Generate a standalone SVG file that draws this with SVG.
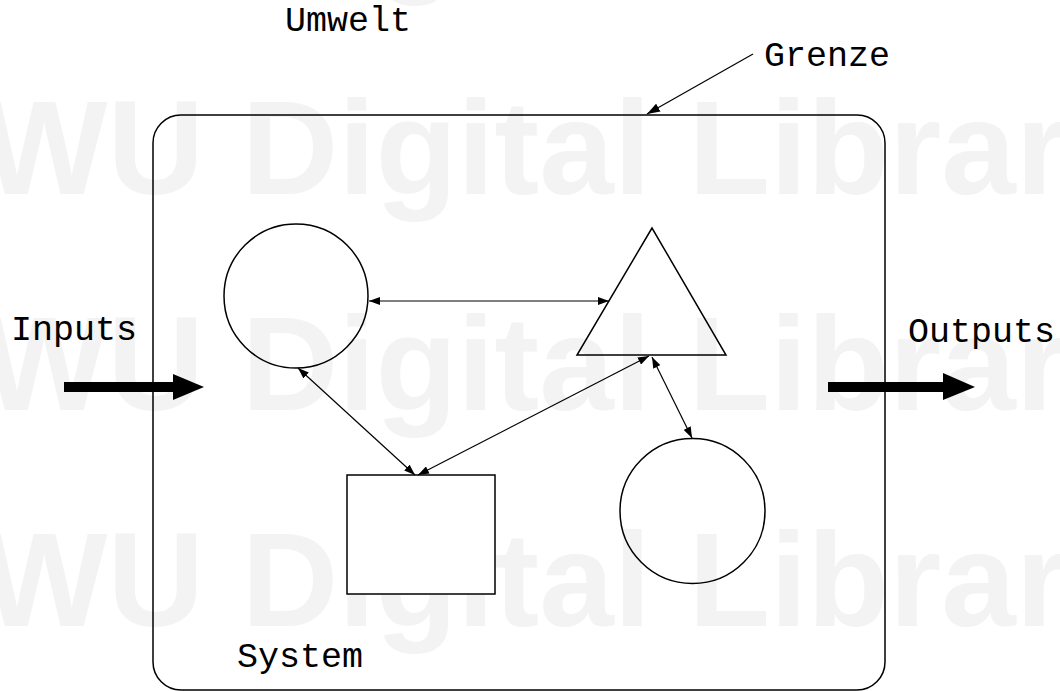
<svg xmlns="http://www.w3.org/2000/svg" width="1060" height="691" viewBox="0 0 1060 691">
<style>
.wm{font-family:"Liberation Sans",Arial,sans-serif;font-weight:bold;font-size:134px;fill:#f3f3f3}
.lbl{font-family:"Liberation Mono","Courier New",monospace;font-size:35px;fill:#000}
.shape{stroke:#000;stroke-width:1.5}
.con{stroke:#000;stroke-width:1.2;fill:none}
</style>
<defs>
<marker id="ah" viewBox="0 0 11 8" refX="11" refY="4" markerWidth="11" markerHeight="8" markerUnits="userSpaceOnUse" orient="auto-start-reverse">
<path d="M0,0 L11,4 L0,8 z" fill="#000"/>
</marker>
<marker id="ahg" viewBox="0 0 13 9" refX="13" refY="4.5" markerWidth="13" markerHeight="9" markerUnits="userSpaceOnUse" orient="auto">
<path d="M0,0 L13,4.5 L0,9 z" fill="#000"/>
</marker>
</defs>
<rect width="1060" height="691" fill="#fff"/>
<g id="watermark">
<text class="wm" x="-19" y="-22">WU Digital Library</text>
<text class="wm" x="-19" y="194">WU Digital Library</text>
<text class="wm" x="-19" y="410">WU Digital Library</text>
<text class="wm" x="-19" y="626">WU Digital Library</text>
</g>
<g id="system-boundary">
<rect x="153" y="115" width="732" height="575" rx="28" ry="28" fill="none" stroke="#000" stroke-width="1.5"/>
</g>
<g id="circle-left"><circle class="shape" cx="296" cy="296" r="72" fill="none"/></g>
<g id="triangle"><polygon class="shape" points="652,228 577,355 726,355" fill="none"/></g>
<g id="circle-right"><circle class="shape" cx="692.5" cy="511" r="72.5" fill="none"/></g>
<g id="rectangle"><rect class="shape" x="347" y="475" width="148" height="119" fill="#fff"/></g>
<g id="connectors">
<line class="con" x1="369" y1="301" x2="609" y2="301" marker-start="url(#ah)" marker-end="url(#ah)"/>
<line class="con" x1="298" y1="368" x2="415" y2="475" marker-start="url(#ah)" marker-end="url(#ah)"/>
<line class="con" x1="418" y1="475" x2="649" y2="356" marker-start="url(#ah)" marker-end="url(#ah)"/>
<line class="con" x1="652" y1="357" x2="692" y2="438" marker-start="url(#ah)" marker-end="url(#ah)"/>
<line class="con" x1="753" y1="54" x2="647" y2="114" marker-end="url(#ahg)"/>
</g>
<g id="input-arrow">
<rect x="64" y="382" width="110" height="10" fill="#000"/>
<polygon points="173,374 204,387 173,400" fill="#000"/>
</g>
<g id="output-arrow">
<rect x="828" y="382" width="116" height="10" fill="#000"/>
<polygon points="943,373 975,387 943,400" fill="#000"/>
</g>
<g id="labels">
<text class="lbl" x="285" y="31">Umwelt</text>
<text class="lbl" x="764" y="66">Grenze</text>
<text class="lbl" x="11" y="340">Inputs</text>
<text class="lbl" x="908" y="342">Outputs</text>
<text class="lbl" x="237" y="667">System</text>
</g>
</svg>
